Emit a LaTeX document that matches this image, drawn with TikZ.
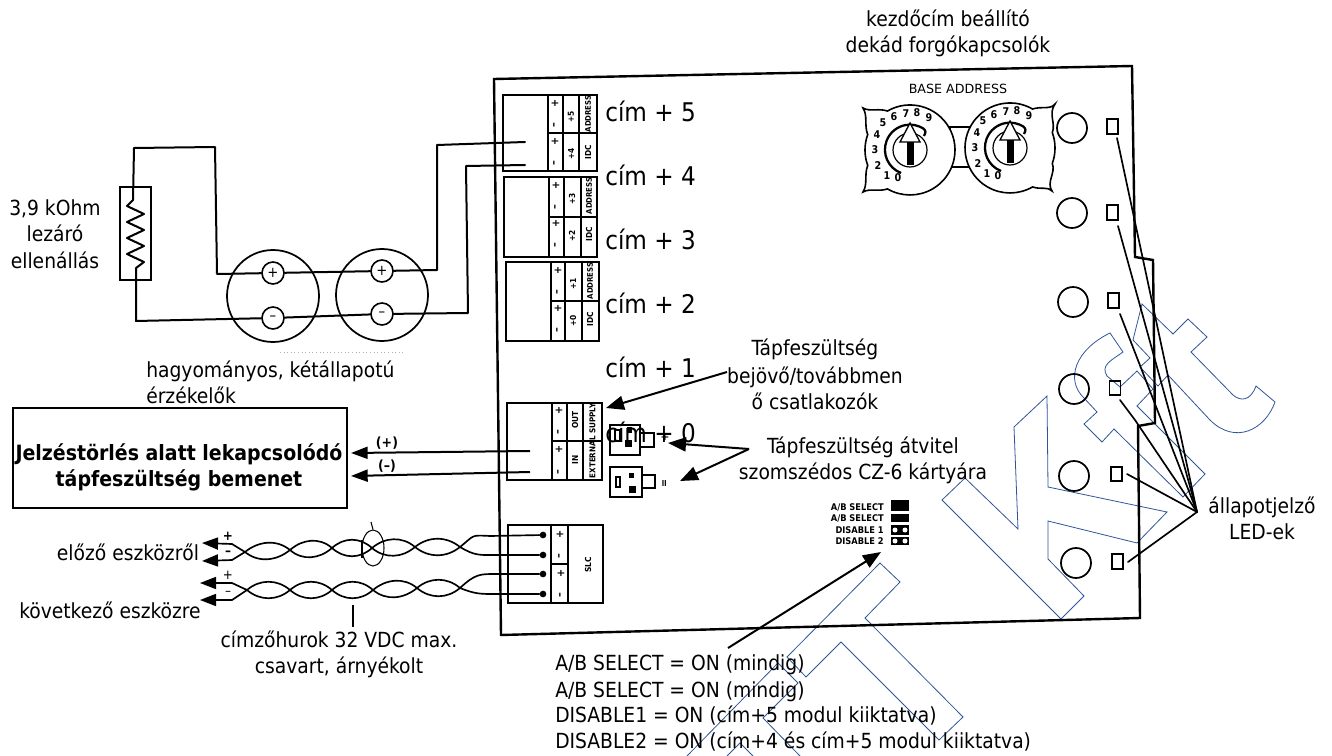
\documentclass[tikz,border=0pt]{standalone}
\usepackage{fontspec}
\setmainfont{DejaVu Sans Condensed}
\newfontfamily\widefont{DejaVu Sans}
\usetikzlibrary{arrows.meta,calc,shapes.geometric}
\definecolor{wm}{HTML}{2F5597}
\tikzset{
  x=0.75pt,y=-0.75pt,
  wire/.style={line width=1.5pt,line join=round,line cap=round},
  thinw/.style={line width=1.25pt,line cap=round},
  frame/.style={line width=1.8pt,line join=miter},
  boxline/.style={line width=1.3pt},
  wmark/.style={draw=wm,line width=0.6pt,line join=miter},
  bigarrow/.style={line width=1.5pt,-{Triangle[length=13.5pt,width=10.5pt]}},
  wirearrow/.style={line width=1.5pt,-{Triangle[length=12.5pt,width=9pt]}},
  lbl/.style={font=\fontsize{15.6}{18}\selectfont,anchor=base,inner sep=0pt},
  lblw/.style={lbl,anchor=base west},
  cimlbl/.style={font=\fontsize{19.3}{22}\selectfont,anchor=base west,inner sep=0pt},
  boldlbl/.style={font=\fontsize{15.8}{18}\selectfont\bfseries,anchor=base,inner sep=0pt},
  tiny/.style={font=\fontsize{6.2}{7}\selectfont\bfseries,inner sep=0pt,rotate=90},
  tinysym/.style={font=\fontsize{8}{8}\selectfont\bfseries,inner sep=0pt,rotate=90},
  tinyh/.style={font=\fontsize{6.9}{7}\selectfont\bfseries,inner sep=0pt,anchor=east},
  dialnum/.style={font=\fontsize{8}{8}\selectfont\bfseries,inner sep=0pt},
  ledhole/.style={draw,circle,line width=1.3pt,inner sep=0pt,minimum size=22.5pt},
  ledrect/.style={draw,line width=1.3pt,inner sep=0pt,minimum width=8.2pt,minimum height=11pt},
  smallterm/.style={draw,circle,line width=1.2pt,fill=white,inner sep=0pt,minimum size=16.5pt,font=\fontsize{11}{11}\selectfont},
  sensor/.style={draw,circle,line width=1.3pt,inner sep=0pt,minimum size=69pt},
  dotnode/.style={fill,circle,inner sep=0pt,minimum size=5pt},
}
\newcommand{\termblock}[8]{%
  \draw[boxline] (#1,#2) rectangle (#3,#4);
  \draw[boxline] (#5,#2) -- (#5,#4) (#6,#2) -- (#6,#4) (#7,#2) -- (#7,#4) (#5,#8) -- (#3,#8);
}
\newcommand{\blocktext}[6]{%
  \node[tinysym] at (#1,#4+8) {+}; \node[tinysym] at (#1,#4+30) {--};
  \node[tinysym] at (#1,#4+46) {+}; \node[tinysym] at (#1,#4+68) {--};
  \node[tiny] at (#2,#4+22) {#5}; \node[tiny] at (#2,#4+59) {#6};
  \node[tiny,font=\fontsize{5.8}{6}\selectfont\bfseries] at (#3,#4+19) {ADDRESS}; \node[tiny] at (#3,#4+57) {IDC};
}
\newcommand{\lens}[4]{%
  \draw[thinw] (#1,#2) .. controls ({#1+(#3-#1)*0.3},{#2-11}) and ({#3-(#3-#1)*0.3},{#4-11}) .. (#3,#4);
  \draw[thinw] (#1,#2) .. controls ({#1+(#3-#1)*0.3},{#2+11}) and ({#3-(#3-#1)*0.3},{#4+11}) .. (#3,#4);
}
\newcommand{\dial}[3]{%
  \begin{scope}[shift={(#1,#2)}]
    \ifnum#3=0
      \draw[line width=1.2pt,fill=white] (-47,-42) .. controls (-40,-38) and (-32,-42) .. (-22.5,-39)
        arc[start angle=240,end angle=480,radius=45]
        .. controls (-32,42) and (-40,38) .. (-47,42)
        .. controls (-42,34) and (-46,25) .. (-42.3,15.4)
        arc[start angle=160,end angle=200,radius=45]
        .. controls (-46,-25) and (-42,-34) .. (-47,-42) -- cycle;
    \else
      \draw[line width=1.2pt,fill=white] (45,-44) .. controls (40,-38) and (32,-42) .. (22.5,-39)
        arc[start angle=300,end angle=60,radius=45]
        .. controls (32,42) and (36,38) .. (42,43)
        .. controls (36,34) and (46,25) .. (42.3,15.4)
        arc[start angle=20,end angle=-20,radius=45]
        .. controls (46,-25) and (38,-34) .. (45,-44) -- cycle;
    \fi
    \draw[line width=1.7pt] (-9,23) arc[start angle=111,end angle=302,radius=25]
      .. controls (16,-19) and (16,-18) .. (14,-14);
    \draw[line width=0.9pt] (0,0) circle[radius=17];
    \fill (-3.5,-8) rectangle (3.5,15);
    \draw[line width=1pt,fill=white] (0,-27) -- (10,-8) -- (-10,-8) -- cycle;
    \foreach \d/\dx/\dy in {0/-12/28,1/-23/26,2/-32/16,3/-35/0,4/-33/-15,5/-27/-27,6/-16/-33,7/-4/-36,8/7/-37,9/19/-32}
      \node[dialnum] at (\dx,\dy) {\d};
  \end{scope}
}
\begin{document}
\begin{tikzpicture}
\useasboundingbox (0,0) rectangle (1332,756);

% watermark
\draw[wmark] (965,478) -- (942,500) -- (1061,619) -- (1084,596) -- (1048,559) -- (1048,521) -- (1137,543) -- (1167,512) -- (1048,487) -- (1047,396) -- (1014,427) -- (1018,529) -- cycle;
\draw[wmark] (880,563) -- (900,582) -- (865,618) -- (963,717) -- (939,740) -- (841,642) -- (806,677) -- (787,657) -- cycle;
\draw[wmark] (687,756) -- (778,663) -- (798,683) -- (763,718) -- (800,756);
\draw[wmark] (727,756) -- (740,743) -- (753,756);
\draw[wmark] (1110,333) -- (1123,352) .. controls (1112,360) and (1100,365) .. (1107,376) -- (1120,387) -- (1137,371) -- (1153,389) -- (1137,406) -- (1205,474) -- (1183,497) -- (1114,429) -- (1102,442) -- (1084,424) -- (1097,412) -- (1084,398) .. controls (1065,380) and (1075,350) .. (1110,333) -- cycle;
\draw[wmark] (1142,304) -- (1173,334) -- (1188,319) -- (1207,337) -- (1191,352) -- (1233,395) .. controls (1240,401) and (1250,402) .. (1256,386) -- (1275,402) .. controls (1265,430) and (1235,445) .. (1210,420) -- (1168,375) -- (1158,386) -- (1140,367) -- (1150,358) -- (1133,340) -- cycle;

% board
\draw[frame] (494,79) -- (1132,66) -- (1135,257) -- (1153,260) -- (1155,423) -- (1138,426) -- (1140,618) -- (501,635) -- cycle;

% terminal blocks
\termblock{503}{95}{597}{171}{548}{563}{579}{133}
\termblock{504}{177}{597}{257}{549}{564}{581}{217}
\termblock{506}{262}{599}{341}{551}{565}{582}{301}
\termblock{507}{403}{602}{480}{552}{567}{583}{441}
\blocktext{555}{571}{588}{95}{+5}{+4}
\blocktext{556}{572}{589}{177}{+3}{+2}
\blocktext{558}{573}{590}{262}{+1}{+0}
\node[tinysym] at (559,410) {+}; \node[tinysym] at (559,432) {--};
\node[tinysym] at (559,449) {+}; \node[tinysym] at (559,472) {--};
\node[tiny] at (575,420) {OUT}; \node[tiny] at (575,460) {IN};
\node[tiny,font=\fontsize{6}{6}\selectfont\bfseries] at (592.5,441) {EXTERNAL SUPPLY};
% SLC block
\draw[boxline] (508,525) rectangle (603,603);
\draw[boxline] (551,525) -- (551,603) (568,525) -- (568,603) (551,564) -- (568,564);
\node[tinysym] at (560,534) {+}; \node[tinysym] at (560,556) {--};
\node[tinysym] at (561,573) {+}; \node[tinysym] at (561,595) {--};
\node[tiny] at (588,565) {SLC};

% sensors
\node[sensor] (s1) at (273,296) {};
\node[sensor] (s2) at (382,295) {};
\node[smallterm] (s1p) at (273,273) {+};
\node[smallterm] (s1m) at (273,318) {--};
\node[smallterm] (s2p) at (382,271) {+};
\node[smallterm] (s2m) at (382,314) {--};
\coordinate (ra) at (525,142);
\coordinate (rb) at (525,165);
\draw[wire] (s2p) -- (437,270) -- (437,145) -- (ra);
\draw[wire] (s2m) -- (468,313) -- (466,166) -- (rb);
\draw[wire] (s1p) -- (s2p);
\draw[wire] (s1m) -- (s2m);
\node[draw,line width=1.2pt,inner sep=0pt,minimum width=23pt,minimum height=69.5pt] (res) at (135.5,233.5) {};
\draw[wire] (s1p) -- (217,274) -- (215,147) -- (134,148) -- (133,200) -- (127,206) -- (144,214) -- (127,222) -- (144,230) -- (127,238) -- (144,246) -- (127,254) -- (144,262) -- (136,268) -- (136,321) -- (s1m);
\draw[gray!60,dotted,line width=0.7pt] (280,352) -- (403,352);

% labels left
\node[lbl] (rtxt1) at (55,216) {3,9 kOhm};
\node[lbl] (rtxt2) at (55,242) {lezáró};
\node[lbl] (rtxt3) at (55,268) {ellenállás};
\node[lblw] (sens1) at (146,377) {hagyományos, kétállapotú};
\node[lblw] (sens2) at (146,403) {érzékelők};

% power box
\node[draw,line width=1.2pt,inner sep=0pt,minimum width=250.5pt,minimum height=75pt] (pbox) at (180,458) {};
\node[boldlbl] (pb1) at (179,460) {Jelzéstörlés alatt lekapcsolódó};
\node[boldlbl] (pb2) at (179,486) {tápfeszültség bemenet};
\coordinate (pa) at (530,451); \coordinate (pta) at (351,453);
\coordinate (pb) at (530,472); \coordinate (ptb) at (351,476);
\draw[wirearrow] (pa) -- (pta);
\draw[wirearrow] (pb) -- (ptb);
\node[font=\fontsize{10.5}{10}\selectfont\bfseries,inner sep=0pt] (pp) at (387,443) {(+)};
\node[font=\fontsize{10.5}{10}\selectfont\bfseries,inner sep=0pt] (pm) at (387,466) {(--)};

% cim labels
\node[cimlbl] (c5) at (605,122) {cím + 5};
\node[cimlbl] (c4) at (605,186) {cím + 4};
\node[cimlbl] (c3) at (605,249) {cím + 3};
\node[cimlbl] (c2) at (605,313) {cím + 2};

% connectors
\draw[boxline] (610,425) rectangle (640,455);
\draw[boxline] (640,433) rectangle (654,447);
\fill (625,440) rectangle (632,447);
\draw[line width=0.8pt] (615,430) rectangle (620,441);
\fill (627,427) rectangle (632,433);
\draw[boxline] (610,467) rectangle (642,497);
\draw[boxline] (642,475) rectangle (655,488);
\fill (629,486) rectangle (636,493);
\draw[line width=0.8pt] (616,477) rectangle (620,487);
\fill (629,473) rectangle (634,478);
\node[tiny,font=\fontsize{8}{8}\selectfont\bfseries] at (665,437) {+};
\node[tiny,font=\fontsize{8}{8}\selectfont\bfseries] at (665,483) {=};
\node[cimlbl] (c1) at (605,377) {cím + 1};
\node[cimlbl] (c0) at (605,442) {cím + 0};

% supply text + arrows
\node[lbl] (t1) at (815,355) {Tápfeszültség};
\node[lbl] (t2) at (815,383) {bejövő/továbbmen};
\node[lbl] (t3) at (815,409) {ő csatlakozók};
\coordinate (t2a) at (727,372); \coordinate (t2t) at (606,408);
\draw[bigarrow] (t2a) -- (t2t);
\node[lbl] (u1) at (863,453) {Tápfeszültség átvitel};
\node[lbl] (u2) at (863,479) {szomszédos CZ-6 kártyára};
\coordinate (ua) at (749,449); \coordinate (ut1) at (668,443); \coordinate (ut2) at (680,481);
\draw[bigarrow] (ua) -- (ut1);
\draw[bigarrow] (ua) -- (ut2);

% switches
\node[tinyh] (sw1) at (884,508) {A/B SELECT};
\node[tinyh] (sw2) at (884,519) {A/B SELECT};
\node[tinyh] (sw3) at (884,530) {DISABLE 1};
\node[tinyh] (sw4) at (884,541) {DISABLE 2};
\fill (891,500) rectangle (909,511);
\fill (891,514) rectangle (909,522);
\fill (891,525) rectangle (909,535);
\fill (891,537) rectangle (909,545);
\fill[white] (895,530) circle[radius=2.5] (905,530) circle[radius=2.5] (895,541) circle[radius=2.5] (905,541) circle[radius=2.5];
\coordinate (swa) at (728,648); \coordinate (swt) at (881,552);
\draw[bigarrow] (swa) -- (swt);
\node[lblw] (l1) at (555,670) {A/B SELECT = ON (mindig)};
\node[lblw] (l2) at (555,697) {A/B SELECT = ON (mindig)};
\node[lblw] (l3) at (555,722) {DISABLE1 = ON (cím+5 modul kiiktatva)};
\node[lblw] (l4) at (555,748) {DISABLE2 = ON (cím+4 és cím+5 modul kiiktatva)};

% twisted pairs
\foreach \xa/\ya/\xb/\yb in {245/552/290/550,290/550/332/548,332/548/372/548,372/548/415/547,415/547/460/547,247/590/290/590,290/590/332/590,332/590/373/590,373/590/417/588,417/588/460/588}
  {\lens{\xa}{\ya}{\xb}{\yb}}
\node[dotnode] (d1) at (543,535) {};
\node[dotnode] (d2) at (543,555) {};
\node[dotnode] (d3) at (543,574) {};
\node[dotnode] (d4) at (543,594) {};
\draw[thinw] (460,547) .. controls (475,535) and (470,535) .. (490,536) -- (d1);
\draw[thinw] (460,547) .. controls (475,556) and (480,555) .. (495,555) -- (d2);
\draw[thinw] (460,588) .. controls (475,574) and (480,574) .. (495,574) -- (d3);
\draw[thinw] (460,588) .. controls (475,594) and (480,594) .. (495,594) -- (d4);
\coordinate (e1) at (202,543); \coordinate (e2) at (202,561);
\coordinate (e3) at (200,583); \coordinate (e4) at (200,600);
\draw[thinw,-{Triangle[length=12pt,width=9pt]}] (245,552) -- (232,544) -- (e1);
\draw[thinw,-{Triangle[length=12pt,width=9pt]}] (245,552) -- (232,560) -- (e2);
\draw[thinw,-{Triangle[length=12pt,width=9pt]}] (247,590) -- (232,583) -- (e3);
\draw[thinw,-{Triangle[length=12pt,width=9pt]}] (247,590) -- (232,600) -- (e4);
\node[draw,ellipse,line width=0.8pt,inner sep=0pt,minimum width=16.5pt,minimum height=27pt] (sh) at (373,548) {};
\draw[line width=0.8pt] (371,522) -- (sh.north);
\draw[line width=0.8pt] (362,540) -- (362,558);
\coordinate (lp1) at (353,605); \coordinate (lp2) at (353,627);
\draw[line width=0.8pt] (lp1) -- (lp2);
\node[font=\fontsize{10}{10}\selectfont\bfseries,inner sep=0pt] at (228,536) {+};
\node[font=\fontsize{10}{10}\selectfont\bfseries,inner sep=0pt] at (228,553) {--};
\node[font=\fontsize{10}{10}\selectfont,inner sep=0pt] at (228,575) {+};
\node[font=\fontsize{10}{10}\selectfont,inner sep=0pt] at (228,593) {--};
\node[lbl] (prev) at (128,560) {előző eszközről};
\node[lbl] (next) at (110,618) {következő eszközre};
\node[lbl] (loop1) at (339,647) {címzőhurok 32 VDC max.};
\node[lbl] (loop2) at (339,673) {csavart, árnyékolt};

% dials
\node[font=\widefont\fontsize{9.5}{9}\selectfont,inner sep=0pt] (base) at (958,89) {BASE ADDRESS};
\draw[line width=1pt,fill=white] (950,127) rectangle (970,167);
\dial{910}{150}{0}
\dial{1010}{148}{1}
\node[lbl] (k1) at (948,27) {kezdőcím beállító};
\node[lbl] (k2) at (948,53) {dekád forgókapcsolók};

% LEDs
\node[ledhole] (h1) at (1072,128) {};
\node[ledhole] (h2) at (1072,213) {};
\node[ledhole] (h3) at (1073,302) {};
\node[ledhole] (h4) at (1074,389) {};
\node[ledhole] (h5) at (1074,476) {};
\node[ledhole] (h6) at (1076,563) {};
\node[ledrect] (r1) at (1112.5,126.5) {};
\node[ledrect] (r2) at (1112.5,212.5) {};
\node[ledrect] (r3) at (1113.5,300.5) {};
\node[ledrect] (r4) at (1115,388) {};
\node[ledrect] (r5) at (1116.5,474) {};
\node[ledrect] (r6) at (1117.5,561.5) {};
\coordinate (hub) at (1197,512);
\coordinate (q1) at (1117,138); \coordinate (q2) at (1118,226); \coordinate (q3) at (1120,314);
\coordinate (q4) at (1120,400); \coordinate (q5) at (1127,474); \coordinate (q6) at (1128,562);
\foreach \q in {q1,q2,q3,q5,q6} \draw[thinw] (\q) -- (hub);
\draw[thinw] (q4) -- (1135,420) -- (hub);
\node[lbl] (st1) at (1262,513) {állapotjelző};
\node[lbl] (st2) at (1262,539) {LED-ek};
\end{tikzpicture}
\end{document}
